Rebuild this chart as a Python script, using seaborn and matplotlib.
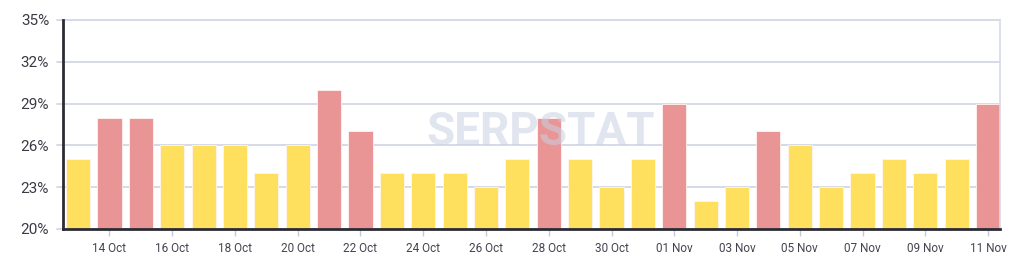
import matplotlib
matplotlib.use("Agg")
import matplotlib.pyplot as plt
import seaborn as sns
import pandas as pd

dates = ["13 Oct", "14 Oct", "15 Oct", "16 Oct", "17 Oct", "18 Oct", "19 Oct", "20 Oct",
         "21 Oct", "22 Oct", "23 Oct", "24 Oct", "25 Oct", "26 Oct", "27 Oct", "28 Oct",
         "29 Oct", "30 Oct", "31 Oct", "01 Nov", "02 Nov", "03 Nov", "04 Nov", "05 Nov",
         "06 Nov", "07 Nov", "08 Nov", "09 Nov", "10 Nov", "11 Nov"]
values = [25, 28, 28, 26, 26, 26, 24, 26, 30, 27, 24, 24, 24, 23, 25, 28,
          25, 23, 25, 29, 22, 23, 27, 26, 23, 24, 25, 24, 25, 29]
kind = ["low", "high", "high", "low", "low", "low", "low", "low", "high", "high",
        "low", "low", "low", "low", "low", "high", "low", "low", "low", "high",
        "low", "low", "high", "low", "low", "low", "low", "low", "low", "high"]
yticks = [20, 23, 26, 29, 32, 35]

palette = {"low": "#FEE05E", "high": "#E99595"}

sns.set_theme(style="white")
plt.rcParams["font.family"] = ["Roboto", "DejaVu Sans"]

df = pd.DataFrame({"date": dates, "value": values, "kind": kind})

fig = plt.figure(figsize=(10.24, 2.72), dpi=100)
ax = fig.add_axes([63 / 1024, 43 / 272, 937 / 1024, 209 / 272])

for y in yticks:
    ax.axhline(y, color="#D6DAE7", lw=1.4, zorder=0, xmin=-0.006, clip_on=False)

sns.barplot(data=df, x="date", y="value", hue="kind", palette=palette, dodge=False,
            width=0.77, legend=False, ax=ax, zorder=2, saturation=1,
            edgecolor="#FFF4F0", linewidth=0.6)

ax.text(0.51, 0.464, "SERPSTAT", transform=ax.transAxes, ha="center", va="center",
        fontsize=33, fontweight="bold", color="#C9D1E3", alpha=0.55, zorder=3)

ax.set_ylim(20, 35)
ax.set_xlim(-0.48, 29.38)
ax.set_yticks(yticks)
ax.set_yticklabels([f"{v}%" for v in yticks], fontsize=11, color="#3A3A44")
ax.tick_params(axis="y", length=0, pad=10)
xt = list(range(1, 30, 2))
ax.set_xticks(xt)
ax.set_xticklabels([dates[i] for i in xt], fontsize=8.5, color="#444450")
ax.tick_params(axis="x", length=5, color="#C4CADA", width=1, pad=4, direction="out", bottom=True)
ax.set_xlabel("")
ax.set_ylabel("")

ax.spines["top"].set_visible(False)
ax.spines["right"].set_color("#D6DAE7")
ax.spines["right"].set_linewidth(1.2)
ax.spines["left"].set_color("#2B2B35")
ax.spines["left"].set_linewidth(2)
ax.spines["bottom"].set_color("#2B2B35")
ax.spines["bottom"].set_linewidth(2)
ax.spines["left"].set_zorder(5)
ax.spines["bottom"].set_zorder(5)

fig.savefig("out.png", dpi=100)
